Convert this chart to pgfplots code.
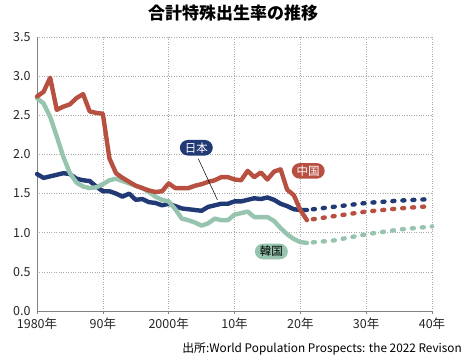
\documentclass[border=0pt]{standalone}
\usepackage{pgfplots}
\pgfplotsset{compat=1.18}
\usepackage{fontspec}
\setmainfont{Noto Sans CJK JP}
\definecolor{jp}{RGB}{33,58,118}
\definecolor{cn}{RGB}{183,80,64}
\definecolor{kr}{RGB}{150,196,174}
\definecolor{gridc}{RGB}{170,170,170}
\definecolor{axc}{RGB}{130,130,130}
\begin{document}
\begin{tikzpicture}
\path[use as bounding box] (0pt,0pt) rectangle (465pt,358pt);
\begin{axis}[
  at={(37pt,47pt)}, anchor=south west, scale only axis,
  width=395pt, height=274pt,
  xmin=1980, xmax=2040, ymin=0, ymax=3.5,
  axis lines=left, axis line style={-, draw=axc, line width=0.8pt},
  xtick={1980,1990,2000,2010,2020,2030,2040},
  xticklabels={1980年,90年,2000年,10年,20年,30年,40年},
  ytick={0,0.5,1,1.5,2,2.5,3,3.5},
  yticklabels={0.0,0.5,1.0,1.5,2.0,2.5,3.0,3.5},
  grid=major, grid style={draw=gridc, dotted, line width=0.6pt},
  tick align=outside, major tick length=3pt,
  x tick style={draw=axc, line width=0.6pt},
  y tick style={draw=none},
  ticklabel style={font=\fontsize{12.5}{12.5}\selectfont, text=black!85},
  clip=false,
  every axis plot/.append style={line width=4.4pt, line join=round, line cap=round},
]
% Japan
\addplot[jp, mark=none] coordinates {
(1980,1.75)(1981,1.70)(1982,1.72)(1983,1.74)(1984,1.76)(1985,1.75)(1986,1.69)(1987,1.67)(1988,1.66)(1989,1.59)
(1990,1.53)(1991,1.53)(1992,1.50)(1993,1.46)(1994,1.50)(1995,1.42)(1996,1.43)(1997,1.39)(1998,1.38)(1999,1.35)
(2000,1.37)(2001,1.34)(2002,1.31)(2003,1.30)(2004,1.29)(2005,1.28)(2006,1.33)(2007,1.35)(2008,1.37)(2009,1.37)
(2010,1.40)(2011,1.40)(2012,1.42)(2013,1.44)(2014,1.43)(2015,1.45)(2016,1.42)(2017,1.37)(2018,1.34)(2019,1.30)
(2020,1.29)(2021,1.29)};
\addplot[jp, mark=none, line cap=round, dash pattern=on 2pt off 8pt, dash phase=-6pt] coordinates {
(2021,1.29)(2025,1.33)(2030,1.38)(2035,1.41)(2040,1.43)};
% Korea
\addplot[kr, mark=none] coordinates {
(1980,2.72)(1981,2.65)(1982,2.48)(1983,2.23)(1984,1.97)(1985,1.76)(1986,1.64)(1987,1.59)(1988,1.57)(1989,1.58)
(1990,1.62)(1991,1.67)(1992,1.69)(1993,1.66)(1994,1.63)(1995,1.60)(1996,1.57)(1997,1.52)(1998,1.46)(1999,1.42)
(2000,1.40)(2001,1.30)(2002,1.18)(2003,1.16)(2004,1.13)(2005,1.09)(2006,1.12)(2007,1.18)(2008,1.16)(2009,1.16)
(2010,1.23)(2011,1.25)(2012,1.27)(2013,1.20)(2014,1.20)(2015,1.20)(2016,1.15)(2017,1.06)(2018,0.98)(2019,0.92)
(2020,0.88)(2021,0.87)};
\addplot[kr, mark=none, line cap=round, dash pattern=on 2pt off 8pt, dash phase=-6pt] coordinates {
(2021,0.87)(2025,0.90)(2030,0.98)(2035,1.04)(2040,1.08)};
% China
\addplot[cn, mark=none] coordinates {
(1980,2.74)(1981,2.80)(1982,2.98)(1983,2.57)(1984,2.61)(1985,2.64)(1986,2.72)(1987,2.77)(1988,2.55)(1989,2.53)
(1990,2.52)(1991,1.95)(1992,1.76)(1993,1.70)(1994,1.65)(1995,1.60)(1996,1.57)(1997,1.54)(1998,1.52)(1999,1.53)
(2000,1.63)(2001,1.57)(2002,1.57)(2003,1.57)(2004,1.60)(2005,1.62)(2006,1.65)(2007,1.67)(2008,1.71)(2009,1.71)
(2010,1.68)(2011,1.67)(2012,1.79)(2013,1.71)(2014,1.77)(2015,1.68)(2016,1.78)(2017,1.81)(2018,1.55)(2019,1.48)
(2020,1.29)(2021,1.16)};
\addplot[cn, mark=none, line cap=round, dash pattern=on 2pt off 8pt, dash phase=-6pt] coordinates {
(2021,1.16)(2025,1.21)(2030,1.27)(2035,1.31)(2040,1.34)};
% labels
\draw[black, line width=0.5pt] (axis cs:2004.5,1.945) -- (axis cs:2007.4,1.42);
\node[fill=jp, text=white, rounded corners=8pt, inner xsep=5pt, inner ysep=2.5pt, font=\fontsize{11.5}{11.5}\selectfont] at (axis cs:2004.2,2.085) {日本};
\node[fill=cn, text=white, rounded corners=8pt, inner xsep=5pt, inner ysep=2.5pt, font=\fontsize{11.5}{11.5}\selectfont] at (axis cs:2021.2,1.79) {中国};
\node[fill=kr, text=black, rounded corners=8pt, inner xsep=5pt, inner ysep=2.5pt, font=\fontsize{11.5}{11.5}\selectfont] at (axis cs:2015.6,0.76) {韓国};
\end{axis}
\node[font=\bfseries\fontsize{17}{17}\selectfont] at (233pt,345pt) {合計特殊出生率の推移};
\node[anchor=base east, inner sep=0pt, font=\fontsize{11.8}{11.8}\selectfont] at (462pt,5pt) {出所:World Population Prospects: the 2022 Revison};
\end{tikzpicture}
\end{document}
